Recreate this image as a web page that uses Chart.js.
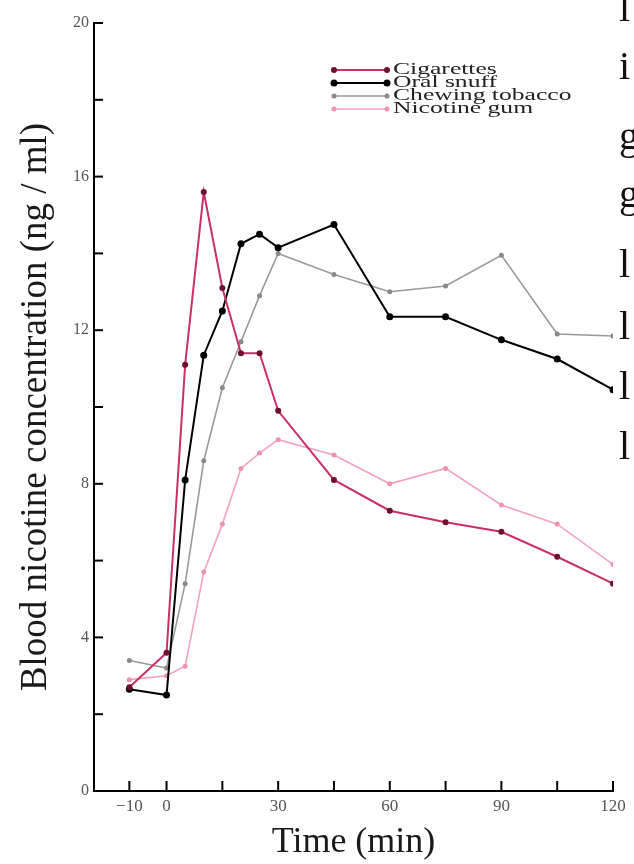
<!DOCTYPE html>
<html>
<head>
<meta charset="utf-8">
<script src="https://cdn.jsdelivr.net/npm/chart.js@4"></script>
<style>
  html, body { margin: 0; padding: 0; background: #fff; overflow: hidden; }
  #wrap { position: relative; width: 634px; height: 864px; }
  .side {
    position: absolute; left: 619px;
    font-family: 'Liberation Serif', serif; font-size: 40px; line-height: 40px;
    color: #111;
  }
</style>
</head>
<body>
<div id="wrap">
  <canvas id="chart" width="634" height="864"></canvas>
  <div class="side" style="top:-12px">l</div>
  <div class="side" style="top:46px">i</div>
  <div class="side" style="top:116px">g</div>
  <div class="side" style="top:174px">g</div>
  <div class="side" style="top:244px">l</div>
  <div class="side" style="top:306px">l</div>
  <div class="side" style="top:366px">l</div>
  <div class="side" style="top:426px">l</div>
</div>
<script>
// Blood nicotine concentration (ng/ml) over time (min)

/* ── Data ── */
const timeMin = [-10, 0, 5, 10, 15, 20, 25, 30, 45, 60, 75, 90, 105, 120];
const cigarettes     = [2.7, 3.6, 11.1, 15.6, 13.1, 11.4, 11.4, 9.9, 8.1, 7.3, 7.0, 6.75, 6.1, 5.4];
const oralSnuff      = [2.65, 2.5, 8.1, 11.35, 12.5, 14.25, 14.5, 14.15, 14.75, 12.35, 12.35, 11.75, 11.25, 10.45];
const chewingTobacco = [3.4, 3.2, 5.4, 8.6, 10.5, 11.7, 12.9, 14.0, 13.45, 13.0, 13.15, 13.95, 11.9, 11.85];
const nicotineGum    = [2.9, 3.0, 3.25, 5.7, 6.95, 8.4, 8.8, 9.15, 8.75, 8.0, 8.4, 7.45, 6.95, 5.9];

const xTicks  = [-10, 0, 15, 30, 45, 60, 75, 90, 105, 120];
const xLabels = [-10, 0, 30, 60, 90, 120];
const yTicks  = [0, 2, 4, 6, 8, 10, 12, 14, 16, 18, 20];
const yLabels = [0, 4, 8, 12, 16, 20];

const serif = "'Liberation Serif', 'DejaVu Serif', serif";

function toPoints(values) {
  return timeMin.map((t, i) => ({ x: t, y: values[i] }));
}

/* ── Inward tick marks + legend drawn on top ── */
const decorPlugin = {
  id: 'decor',
  afterDraw(chart) {
    const ctx = chart.ctx;
    const xs = chart.scales.x, ys = chart.scales.y;
    const area = chart.chartArea;
    ctx.save();
    ctx.strokeStyle = '#000';
    ctx.lineWidth = 2;
    xTicks.forEach(v => {
      const px = xs.getPixelForValue(v);
      ctx.beginPath();
      ctx.moveTo(px, area.bottom);
      ctx.lineTo(px, area.bottom - 10);
      ctx.stroke();
    });
    yTicks.forEach(v => {
      const py = ys.getPixelForValue(v);
      ctx.beginPath();
      ctx.moveTo(area.left, py);
      ctx.lineTo(area.left + 9, py);
      ctx.stroke();
    });

    // legend: sample line with a marker at each end, wide serif text
    const x0 = 334, x1 = 387, textX = 393;
    let y = 70;
    chart.data.datasets.forEach(ds => {
      ctx.strokeStyle = ds.borderColor;
      ctx.lineWidth = ds.borderWidth;
      ctx.beginPath();
      ctx.moveTo(x0, y);
      ctx.lineTo(x1, y);
      ctx.stroke();
      ctx.fillStyle = ds.pointBackgroundColor;
      [x0, x1].forEach(px => {
        ctx.beginPath();
        ctx.arc(px, y, ds.pointRadius, 0, Math.PI * 2);
        ctx.fill();
      });
      ctx.save();
      ctx.translate(textX, y);
      ctx.scale(1.6, 1);
      ctx.font = '16px ' + serif;
      ctx.textBaseline = 'middle';
      ctx.fillStyle = '#222';
      ctx.fillText(ds.label, 0, 0);
      ctx.restore();
      y += 13;
    });
    ctx.restore();
  }
};

new Chart(document.getElementById('chart'), {
  type: 'line',
  data: {
    datasets: [
      {
        label: 'Cigarettes',
        data: toPoints(cigarettes),
        borderColor: '#c8306a',
        borderWidth: 2,
        pointBackgroundColor: '#6e0f30',
        pointBorderColor: '#6e0f30',
        pointRadius: 3,
        pointBorderWidth: 0
      },
      {
        label: 'Oral snuff',
        data: toPoints(oralSnuff),
        borderColor: '#000000',
        borderWidth: 2,
        pointBackgroundColor: '#000000',
        pointBorderColor: '#000000',
        pointRadius: 3.5,
        pointBorderWidth: 0
      },
      {
        label: 'Chewing tobacco',
        data: toPoints(chewingTobacco),
        borderColor: '#9a9a9a',
        borderWidth: 1.6,
        pointBackgroundColor: '#8a8a8a',
        pointBorderColor: '#8a8a8a',
        pointRadius: 2.5,
        pointBorderWidth: 0
      },
      {
        label: 'Nicotine gum',
        data: toPoints(nicotineGum),
        borderColor: '#f2a3bb',
        borderWidth: 1.6,
        pointBackgroundColor: '#ee93ae',
        pointBorderColor: '#ee93ae',
        pointRadius: 2.5,
        pointBorderWidth: 0
      }
    ]
  },
  options: {
    responsive: false,
    animation: false,
    devicePixelRatio: 1,
    layout: { padding: { left: 0, top: 23, right: 21, bottom: 0 } },
    plugins: {
      legend: { display: false },
      tooltip: { enabled: false }
    },
    elements: { line: { tension: 0 } },
    scales: {
      x: {
        type: 'linear',
        min: -19.5,
        max: 120,
        afterBuildTicks: axis => { axis.ticks = xTicks.map(v => ({ value: v })); },
        afterFit: axis => { axis.height = 73; },
        grid: { display: false, drawTicks: false },
        border: { display: true, color: '#000', width: 2 },
        ticks: {
          autoSkip: false,
          maxRotation: 0,
          padding: 5,
          color: '#555',
          font: { family: serif, size: 17 },
          callback: v => xLabels.includes(v) ? (v < 0 ? '\u2212' + Math.abs(v) : String(v)) : ''
        },
        title: {
          display: true,
          text: 'Time (min)',
          color: '#1a1a1a',
          font: { family: serif, size: 36 },
          padding: { top: 0, bottom: 0 }
        }
      },
      y: {
        min: 0,
        max: 20,
        afterBuildTicks: axis => { axis.ticks = yTicks.map(v => ({ value: v })); },
        afterFit: axis => { axis.width = 94; },
        grid: { display: false, drawTicks: false },
        border: { display: true, color: '#000', width: 2 },
        ticks: {
          autoSkip: false,
          padding: 5,
          color: '#555',
          font: { family: serif, size: 16 },
          callback: v => yLabels.includes(v) ? String(v) : ''
        },
        title: {
          display: true,
          text: 'Blood nicotine concentration (ng / ml)',
          color: '#1a1a1a',
          font: { family: serif, size: 37 },
          padding: { top: 14, bottom: 0 }
        }
      }
    }
  },
  plugins: [decorPlugin]
});
</script>
</body>
</html>
